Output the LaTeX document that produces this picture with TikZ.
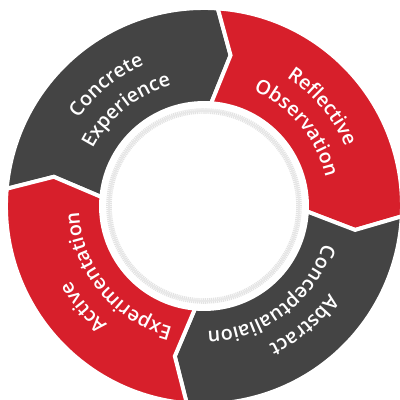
\documentclass[tikz,border=0pt]{standalone}
\usepackage{fontspec}
\setmainfont{Open Sans}
\newfontfamily\ringfont{Open Sans Semibold}
\usetikzlibrary{decorations.text}
\definecolor{ringgray}{HTML}{444444}
\definecolor{ringred}{HTML}{D71F2B}

\begin{document}
\begin{tikzpicture}[x=0.025cm,y=0.025cm]
	\tikzstyle{SEG} = [draw=white, line width=2.8pt, line join=miter]
	\tikzstyle{GRAY} = [SEG, fill=ringgray]
	\tikzstyle{RED} = [SEG, fill=ringred]
	\tikzstyle{WORD} = [decorate, decoration={text along path, text align=center, text color=white}]
	\useasboundingbox (-204,-194) rectangle (196,206);
	\clip (-204,-194) rectangle (196,206);

	% inner light ring
	\draw[black!11, line width=4pt, dash pattern=on 0.8pt off 0.6pt] (0,0) circle (95);
	\draw[black!9, line width=1.2pt] (0,0) circle (95);

	% the four arrows, clockwise
	\path[GRAY] (175:198) arc[start angle=175, end angle=86, radius=198] -- (80:153) -- (86:103)
		arc[start angle=86, end angle=175, radius=103] -- (169:153) -- cycle;
	\path[RED] (86:198) arc[start angle=86, end angle=-3, radius=198] -- (-9:153) -- (-3:103)
		arc[start angle=-3, end angle=86, radius=103] -- (80:153) -- cycle;
	\path[GRAY] (-3:198) arc[start angle=-3, end angle=-95, radius=198] -- (-101:153) -- (-95:103)
		arc[start angle=-95, end angle=-3, radius=103] -- (-9:153) -- cycle;
	\path[RED] (265:198) arc[start angle=265, end angle=175, radius=198] -- (169:153) -- (175:103)
		arc[start angle=175, end angle=265, radius=103] -- (259:153) -- cycle;

	% labels
	\path[WORD, decoration={text={|\ringfont\fontsize{14pt}{17pt}\selectfont|Concrete}}]
		(174:153) arc[start angle=174, end angle=84, radius=153];
	\path[WORD, decoration={text={|\ringfont\fontsize{14pt}{17pt}\selectfont|Experience}}]
		(174:125) arc[start angle=174, end angle=84, radius=125];
	\path[WORD, decoration={text={|\ringfont\fontsize{14pt}{17pt}\selectfont|Reflective}}]
		(85:153) arc[start angle=85, end angle=-5, radius=153];
	\path[WORD, decoration={text={|\ringfont\fontsize{14pt}{17pt}\selectfont|Observation}}]
		(85:125) arc[start angle=85, end angle=-5, radius=125];
	\path[WORD, decoration={text={|\ringfont\fontsize{14pt}{17pt}\selectfont|Abstract}}]
		(-5:153) arc[start angle=-5, end angle=-95, radius=153];
	\path[WORD, decoration={text={|\ringfont\fontsize{14pt}{17pt}\selectfont|Conceptualiaion}}]
		(-8:125) arc[start angle=-8, end angle=-98, radius=125];
	\path[WORD, decoration={text={|\ringfont\fontsize{14pt}{17pt}\selectfont|Active}}]
		(265:153) arc[start angle=265, end angle=175, radius=153];
	\path[WORD, decoration={text={|\ringfont\fontsize{14pt}{17pt}\selectfont|Experimentation}}]
		(264:125) arc[start angle=264, end angle=174, radius=125];
\end{tikzpicture}
\end{document}
